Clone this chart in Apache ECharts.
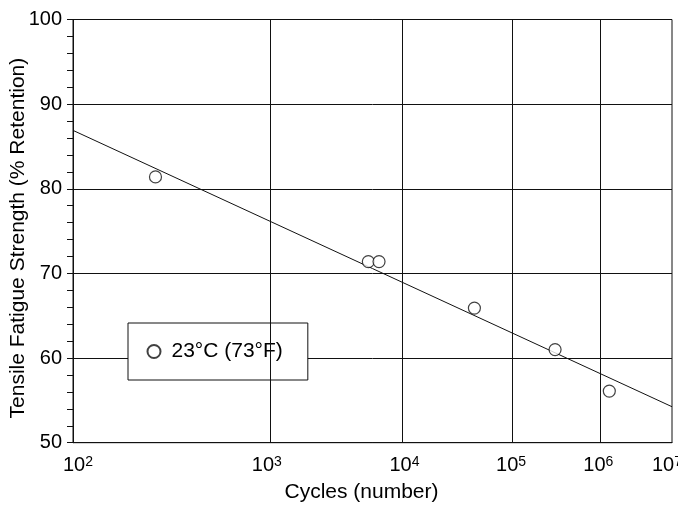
<!DOCTYPE html>
<html>
<head>
<meta charset="utf-8">
<script src="https://cdn.jsdelivr.net/npm/echarts@6/dist/echarts.min.js"></script>
<style>html,body{margin:0;padding:0;background:#fff;}#c{width:678px;height:506px;}</style>
</head>
<body>
<div id="c"></div>
<script>
// Data
var cycles = [238, 5120, 6210, 42700, 303000, 1380000];
var strength = [81.4, 71.4, 71.4, 65.9, 61.0, 56.1];
var fitCycles = [1e2, 1e7];
var fitStrength = [86.9, 54.25];
var xTickExponents = [2, 3, 4, 5, 6, 7];
var yTicks = [50, 60, 70, 80, 90, 100];
var seriesName = '23°C (73°F)';

// x axis is a log(log N) scale
function L(n) { return Math.log10(Math.log10(n)); }
function Le(e) { return Math.log10(e); }

var FONT = "'Liberation Sans', Arial, sans-serif";
var chart = echarts.init(document.getElementById('c'));
var xTickVals = xTickExponents.map(Le);
var vGrid = xTickExponents.slice(1, -1).map(function (e) { return { xAxis: Le(e) }; });
var firstExp = xTickExponents[0], lastExp = xTickExponents[xTickExponents.length - 1];

chart.setOption({
  animation: false,
  backgroundColor: '#fff',
  textStyle: { fontFamily: FONT, color: '#000' },
  grid: { left: 73, right: 6, top: 19.5, bottom: 63.3, containLabel: false, outerBoundsMode: 'none',
          show: true, borderColor: '#111', borderWidth: 1, backgroundColor: 'transparent' },
  legend: {
    left: 128, top: 323,
    data: [seriesName],
    backgroundColor: '#fff', borderColor: '#111', borderWidth: 1,
    padding: [18, 25, 18, 18.5],
    itemWidth: 25, itemHeight: 13,
    textStyle: { fontFamily: FONT, fontSize: 21, color: '#000' }
  },
  xAxis: {
    type: 'value',
    min: Le(firstExp), max: Le(lastExp),
    name: 'Cycles (number)', nameLocation: 'middle', nameGap: 39, nameMoveOverlap: false,
    nameTextStyle: { fontFamily: FONT, fontSize: 21, color: '#000', padding: [0, 22, 0, 0] },
    axisLine: { show: true, lineStyle: { color: '#111', width: 1 } },
    axisTick: { show: false, customValues: xTickVals },
    splitLine: { show: false },
    axisLabel: {
      customValues: xTickVals,
      margin: 12,
      hideOverlap: false,
      formatter: function (v) {
        var e = Math.round(Math.pow(10, v));
        var base = e === firstExp ? 'a0' : (e === lastExp ? 'a9' : 'a');
        var sup = e === lastExp ? 's9' : 's';
        return '{' + base + '|10}{' + sup + '|' + e + '}';
      },
      rich: {
        a: { fontFamily: FONT, fontSize: 20, color: '#000' },
        a0: { fontFamily: FONT, fontSize: 20, color: '#000', padding: [0, 0, 0, 10] },
        a9: { fontFamily: FONT, fontSize: 20, color: '#000' },
        s: { fontFamily: FONT, fontSize: 14, color: '#000', verticalAlign: 'top', padding: [0, 0, 7, 0] },
        s9: { fontFamily: FONT, fontSize: 14, color: '#000', verticalAlign: 'top', padding: [0, 10, 7, 0] }
      }
    }
  },
  yAxis: {
    type: 'value', min: yTicks[0], max: yTicks[yTicks.length - 1], interval: 10,
    name: 'Tensile Fatigue Strength (% Retention)', nameLocation: 'middle', nameGap: 44, nameMoveOverlap: false,
    nameTextStyle: { fontFamily: FONT, fontSize: 21, color: '#000', padding: [0, 14, 0, 0] },
    axisLine: { show: true, lineStyle: { color: '#111', width: 1 } },
    axisTick: { show: true, inside: false, length: 6, lineStyle: { color: '#111' } },
    minorTick: { show: true, splitNumber: 5, length: 6, lineStyle: { color: '#111' } },
    splitLine: { show: true, lineStyle: { color: '#111', width: 1 } },
    axisLabel: { margin: 11, fontFamily: FONT, fontSize: 20, color: '#000' }
  },
  series: [
    {
      type: 'line', name: 'fit', silent: true, symbol: 'none',
      data: fitCycles.map(function (c, i) { return [L(c), fitStrength[i]]; }),
      lineStyle: { color: '#111', width: 1 },
      markLine: {
        silent: true, symbol: 'none', label: { show: false },
        lineStyle: { color: '#111', width: 1, type: 'solid' },
        data: vGrid
      },
      z: 3
    },
    {
      type: 'scatter', name: seriesName,
      symbol: 'circle', symbolSize: 12,
      data: cycles.map(function (c, i) { return [L(c), strength[i]]; }),
      itemStyle: { color: '#fff', borderColor: '#111', borderWidth: 1.2 },
      z: 4
    }
  ]
});
</script>
</body>
</html>
